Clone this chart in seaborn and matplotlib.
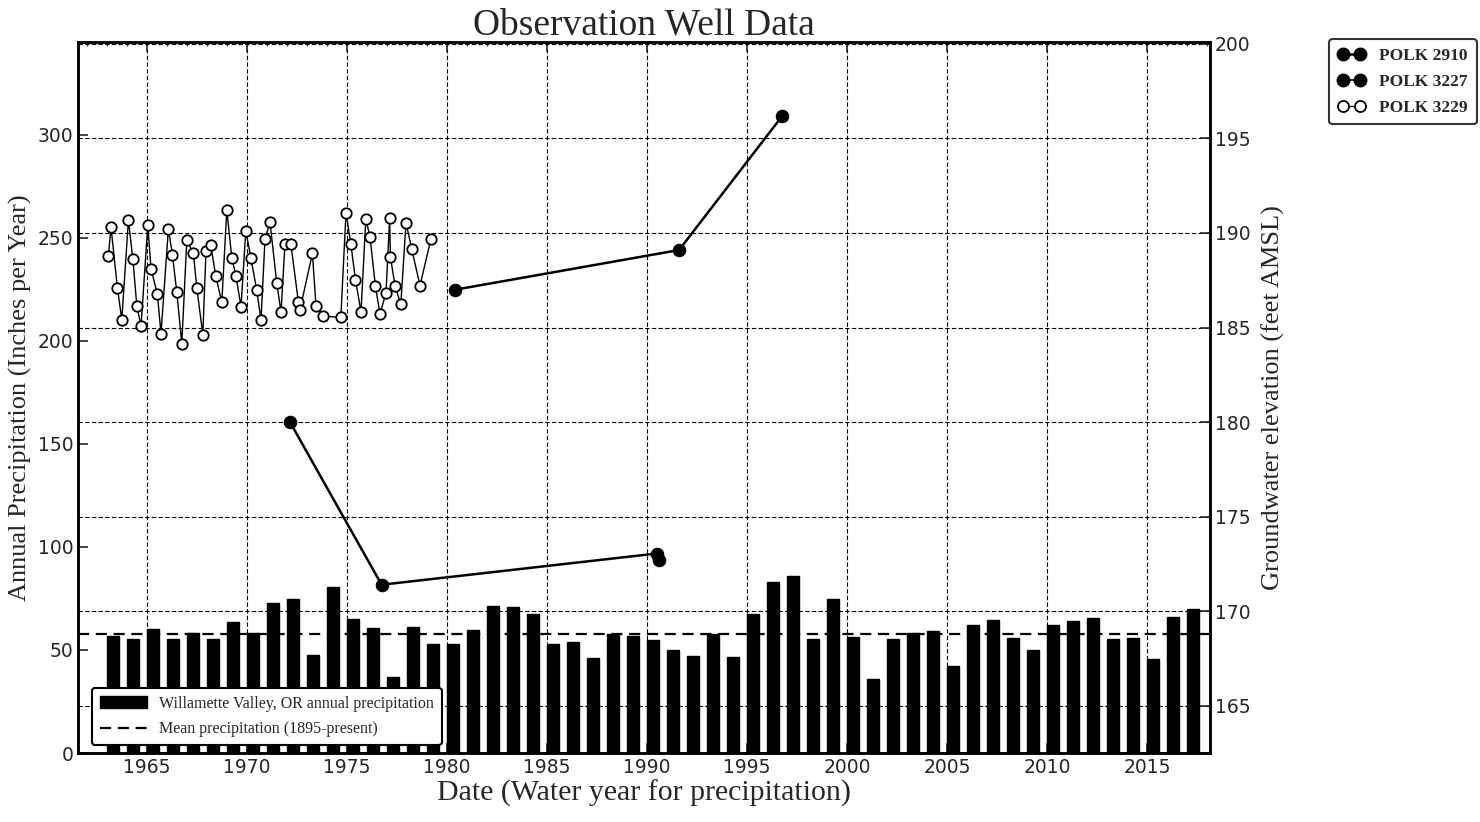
import numpy as np
import pandas as pd
import seaborn as sns
import matplotlib.pyplot as plt
from matplotlib.patches import Patch
from matplotlib.lines import Line2D
from matplotlib.ticker import MultipleLocator

# annual precipitation, Willamette Valley (inches), water years 1963-2017
years = np.arange(1963, 2018)
precip = [56.8, 55.3, 60.2, 55.3, 58.0, 55.3, 63.7, 58.0, 72.7, 74.8,
          47.6, 80.7, 64.9, 60.8, 37.0, 61.3, 52.8, 52.8, 59.7, 71.4,
          70.7, 67.3, 52.8, 53.9, 46.3, 57.9, 56.6, 54.7, 50.0, 46.9,
          57.9, 46.4, 67.5, 82.8, 85.9, 55.2, 74.8, 56.3, 35.9, 55.2,
          58.1, 59.2, 42.2, 62.0, 64.4, 55.8, 50.0, 62.0, 63.9, 65.5,
          55.5, 55.7, 45.5, 66.0, 70.0]
mean_precip = 57.8

# groundwater elevations (feet AMSL)
polk2910_date = [1972.15, 1976.73, 1990.48, 1990.6]
polk2910_elev = [180.0, 171.4, 173.05, 172.7]

polk3227_date = [1980.4, 1991.6, 1996.77]
polk3227_elev = [187.0, 189.1, 196.2]

polk3229_date = [1963.07, 1963.2, 1963.52, 1963.74, 1964.07, 1964.29, 1964.49, 1964.7,
                 1965.04, 1965.2, 1965.52, 1965.7, 1966.07, 1966.27, 1966.49, 1966.74,
                 1966.99, 1967.32, 1967.49, 1967.79, 1967.95, 1968.19, 1968.44, 1968.74,
                 1968.99, 1969.24, 1969.45, 1969.7, 1969.94, 1970.19, 1970.49, 1970.7,
                 1970.9, 1971.15, 1971.49, 1971.7, 1971.9, 1972.19, 1972.57, 1972.65,
                 1973.27, 1973.45, 1973.82, 1974.69, 1974.95, 1975.19, 1975.42, 1975.7,
                 1975.94, 1976.15, 1976.42, 1976.65, 1976.95, 1977.13, 1977.17, 1977.4,
                 1977.69, 1977.95, 1978.24, 1978.65, 1979.19]
polk3229_elev = [188.77, 190.31, 187.10, 185.42, 190.68, 188.65, 186.16, 185.07,
                 190.40, 188.11, 186.75, 184.68, 190.22, 188.86, 186.87, 184.15,
                 189.62, 188.92, 187.10, 184.63, 189.07, 189.35, 187.71, 186.34,
                 191.21, 188.69, 187.71, 186.10, 190.13, 188.69, 186.96, 185.39,
                 189.69, 190.57, 187.33, 185.83, 189.44, 189.44, 186.34, 185.95,
                 188.92, 186.13, 185.60, 185.54, 191.07, 189.44, 187.54, 185.83,
                 190.75, 189.80, 187.19, 185.72, 186.84, 190.77, 188.74, 187.22,
                 186.22, 190.54, 189.13, 187.22, 189.66]

sns.set_style('ticks')
plt.rcParams['font.family'] = ['DejaVu Sans']
serif = ['Liberation Serif', 'DejaVu Serif']

fig = plt.figure(figsize=(14.8, 8.22), dpi=100)
ax = fig.add_axes([0.0527, 0.0839, 0.7649, 0.865])

precip_df = pd.DataFrame({'year': years + 0.3, 'precip': precip})
sns.barplot(data=precip_df, x='year', y='precip', native_scale=True, width=0.6,
            color='black', saturation=1, edgecolor='black', ax=ax)
ax.axhline(mean_precip, color='black', linestyle=(0, (5, 3)), linewidth=1.6)

ax.set_xlim(1961.55, 2018.15)
ax.set_ylim(0, 345)
ax.xaxis.set_major_locator(MultipleLocator(5))
ax.xaxis.set_minor_locator(MultipleLocator(1))
ax.yaxis.set_major_locator(MultipleLocator(50))
ax.tick_params(axis='both', which='major', direction='in', length=7, width=1.2,
               labelsize=13.5, top=True)
ax.tick_params(axis='x', which='minor', direction='in', length=3, width=0.7,
               top=True, bottom=False)
ax.xaxis.grid(True, color='black', linestyle=(0, (4, 2)), linewidth=0.8)
ax.set_xlabel('Date (Water year for precipitation)', family=serif, fontsize=21.5,
              labelpad=2)
ax.set_ylabel('Annual Precipitation (Inches per Year)', family=serif, fontsize=19)
ax.set_title('Observation Well Data', family=serif, fontsize=27, pad=2)

ax2 = ax.twinx()
sns.lineplot(x=polk2910_date, y=polk2910_elev, estimator=None, sort=False, ax=ax2,
             color='black', linewidth=1.8, marker='o', markersize=9, mec='black')
sns.lineplot(x=polk3227_date, y=polk3227_elev, estimator=None, sort=False, ax=ax2,
             color='black', linewidth=1.8, marker='o', markersize=9, mec='black')
sns.lineplot(x=polk3229_date, y=polk3229_elev, estimator=None, sort=False, ax=ax2,
             color='black', linewidth=1.0, marker='o', markersize=7.5,
             mfc='white', mec='black', mew=1.3)
ax2.set_ylim(162.5, 200.1)
ax2.yaxis.set_major_locator(MultipleLocator(5))
ax2.tick_params(axis='y', direction='in', length=7, width=1.2, labelsize=13.5)
ax2.yaxis.grid(True, color='black', linestyle=(0, (4, 2)), linewidth=0.8)
ax2.set_ylabel('Groundwater elevation (feet AMSL)', family=serif, fontsize=19,
               labelpad=8)

for a in (ax, ax2):
    for s in a.spines.values():
        s.set_visible(True)
        s.set_linewidth(1.8)
        s.set_color('black')

well_handles = [
    Line2D([], [], color='black', linewidth=1.8, marker='o', markersize=9),
    Line2D([], [], color='black', linewidth=1.2, marker='o', markersize=9),
    Line2D([], [], color='black', linewidth=1.0, marker='o', markersize=8,
           mfc='white', mec='black', mew=1.3),
]
leg1 = fig.legend(well_handles, ['POLK 2910', 'POLK 3227', 'POLK 3229'],
                  loc='upper left', bbox_to_anchor=(0.898, 0.952), numpoints=2,
                  handlelength=1.6, borderaxespad=0, frameon=True, fancybox=True,
                  labelspacing=0.55, borderpad=0.5,
                  prop={'family': serif, 'size': 12.5, 'weight': 'bold'})
leg1.get_frame().set_edgecolor('black')
leg1.get_frame().set_linewidth(1.5)

precip_handles = [Patch(facecolor='black', edgecolor='black'),
                  Line2D([], [], color='black', linestyle=(0, (5, 3)), linewidth=1.6)]
leg2 = ax2.legend(precip_handles,
                  ['Willamette Valley, OR annual precipitation',
                   'Mean precipitation (1895-present)'],
                  loc='lower left', bbox_to_anchor=(0.012, 0.011), borderaxespad=0,
                  handlelength=3.0, handletextpad=0.7, frameon=True, fancybox=True,
                  framealpha=1, labelspacing=0.6, borderpad=0.5,
                  prop={'family': serif, 'size': 11.5})
leg2.get_frame().set_edgecolor('black')
leg2.get_frame().set_linewidth(1.5)

fig.savefig('out.png', dpi=100)
